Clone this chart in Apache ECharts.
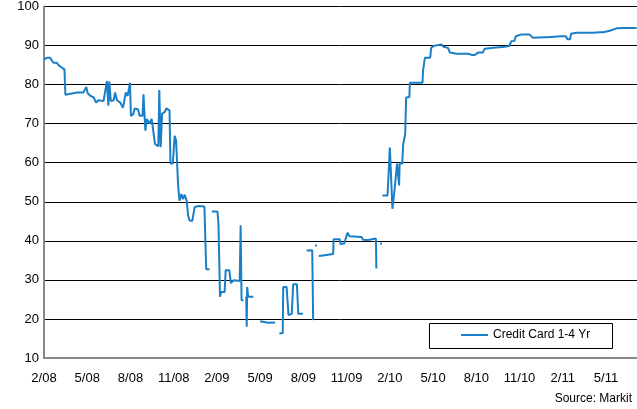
<!DOCTYPE html>
<html>
<head>
<meta charset="utf-8">
<script src="https://cdn.jsdelivr.net/npm/echarts@6/dist/echarts.min.js"></script>
<style>html,body{margin:0;padding:0;background:#fff}#c{width:637px;height:409px}</style>
</head>
<body>
<div id="c"></div>
<script>
const seriesName = 'Credit Card 1-4 Yr';
const yTicks = [10, 20, 30, 40, 50, 60, 70, 80, 90, 100];
const dates = [
'2008-02-01','2008-02-07','2008-02-13','2008-02-17','2008-02-20','2008-02-27','2008-03-01','2008-03-09','2008-03-14','2008-03-16',
'2008-03-19','2008-04-10','2008-04-23','2008-04-29','2008-05-02','2008-05-08','2008-05-15','2008-05-20','2008-05-25','2008-05-29',
'2008-06-05','2008-06-08','2008-06-12','2008-06-15','2008-06-17','2008-06-20','2008-06-26','2008-06-29','2008-07-03','2008-07-10',
'2008-07-16','2008-07-20','2008-07-22','2008-07-26','2008-07-31','2008-08-02','2008-08-07','2008-08-10','2008-08-17','2008-08-21',
'2008-08-27','2008-08-29','2008-09-02','2008-09-05','2008-09-11','2008-09-15','2008-09-18','2008-09-22','2008-09-29','2008-10-01',
'2008-10-04','2008-10-07','2008-10-13','2008-10-16','2008-10-23','2008-10-25','2008-10-30','2008-11-03','2008-11-06','2008-11-10',
'2008-11-13','2008-11-17','2008-11-20','2008-11-24','2008-11-28','2008-12-01','2008-12-04','2008-12-10','2008-12-15','2008-12-22',
'2009-01-05','2009-01-08','2009-01-09','2009-01-16','2009-01-18','2009-01-21','2009-02-02','2009-02-04','2009-02-07','2009-02-09',
'2009-02-16','2009-02-18','2009-02-25','2009-02-28','2009-03-06','2009-03-19','2009-03-21','2009-03-23','2009-03-27','2009-03-30',
'2009-04-02','2009-04-03','2009-04-04','2009-04-06','2009-04-17','2009-04-24','2009-05-01','2009-05-05','2009-05-18','2009-06-02',
'2009-06-06','2009-06-11','2009-06-18','2009-06-19','2009-06-26','2009-06-30','2009-07-07','2009-07-10','2009-07-18','2009-07-21',
'2009-07-31','2009-08-04','2009-08-08','2009-08-20','2009-08-22','2009-08-24','2009-08-26','2009-08-30','2009-08-31','2009-09-03',
'2009-09-15','2009-10-03','2009-10-04','2009-10-17','2009-10-19','2009-10-27','2009-10-31','2009-11-03','2009-11-07','2009-12-02',
'2009-12-05','2009-12-16','2010-01-02','2010-01-03','2010-01-07','2010-01-11','2010-01-15','2010-01-15','2010-01-16','2010-01-27',
'2010-02-01','2010-02-06','2010-02-10','2010-02-13','2010-02-15','2010-02-19','2010-02-20','2010-02-25','2010-02-27','2010-03-03',
'2010-03-05','2010-03-12','2010-03-13','2010-04-09','2010-04-10','2010-04-14','2010-04-25','2010-04-27','2010-05-02','2010-05-05',
'2010-05-19','2010-05-23','2010-06-02','2010-06-06','2010-06-20','2010-07-15','2010-07-18','2010-07-22','2010-07-29','2010-08-05',
'2010-08-15','2010-08-19','2010-09-12','2010-09-26','2010-10-10','2010-10-14','2010-10-21','2010-10-24','2010-11-04','2010-11-22',
'2010-11-29','2010-12-23','2010-12-27','2010-12-30','2011-01-28','2011-02-07','2011-02-10','2011-02-15','2011-02-17','2011-02-28',
'2011-04-04','2011-04-08','2011-04-18','2011-04-25','2011-04-29','2011-05-09','2011-05-13','2011-05-24','2011-06-06','2011-07-05'
];
const values = [
86.4,86.9,86.9,86.6,85.6,85.6,85.0,84.3,83.9,77.4,
77.5,78.0,78.0,79.4,77.8,77.1,76.7,75.4,76.0,76.2,
75.8,75.4,80.9,74.6,80.8,75.8,76.0,78.0,76.0,75.4,
74.1,74.2,78.0,77.1,80.5,72.0,72.4,73.9,73.7,72.0,
72.0,77.5,68.2,71.2,70.0,71.2,68.6,64.8,64.2,78.6,
64.0,72.6,73.0,73.9,73.4,59.8,59.8,66.9,65.7,54.6,
50.3,52.0,50.7,51.8,50.3,46.5,45.2,45.1,48.6,48.9,
48.8,48.6,32.7,32.7,null,47.5,47.5,44.4,25.7,26.9,
26.9,32.5,32.5,29.2,29.9,29.7,44.0,24.8,24.8,null,
25.7,18.0,28.2,25.7,25.7,null,19.4,18.9,19.0,19.1,
null,16.3,16.4,28.2,28.2,21.0,21.3,28.9,28.9,21.3,
21.3,null,37.5,37.6,19.7,null,38.8,38.8,null,36.1,
36.3,36.6,40.4,40.4,39.2,39.3,41.0,42.1,41.2,41.0,
40.3,40.2,40.6,32.9,null,39.3,39.3,null,51.6,51.6,
63.9,48.2,52.9,52.9,59.8,54.2,59.8,59.8,64.8,67.3,
76.7,76.8,80.5,80.5,83.5,86.9,86.9,89.4,89.9,90.3,
90.3,89.7,89.4,88.2,87.9,87.9,88.2,87.6,87.6,88.2,
88.2,89.2,89.5,89.6,89.9,91.1,91.2,92.4,92.8,92.8,
92.0,92.1,92.5,92.1,92.4,92.4,91.6,91.6,93.0,93.3,
93.3,93.0,93.4,93.4,93.9,93.8,94.1,94.4,94.5,94.5
];

function monthIndex(s) {
  const p = s.split('-').map(Number);
  const dim = new Date(Date.UTC(p[0], p[1], 0)).getUTCDate();
  return (p[0] - 2008) * 12 + (p[1] - 2) + (p[2] - 1) / dim;
}
const data = dates.map((d, i) => [monthIndex(d), values[i] === null ? '-' : values[i]]);
const font = 'Arial, "Liberation Sans", sans-serif';
const blue = '#1a7fc6';

const chart = echarts.init(document.getElementById('c'));
chart.setOption({
  animation: false,
  backgroundColor: '#fff',
  grid: { left: 44, right: 0, top: 5, bottom: 51 },
  xAxis: {
    type: 'value', min: 0, max: 41.15, interval: 3,
    axisLine: { show: true, onZero: false, lineStyle: { color: '#888', width: 2 } },
    axisTick: { show: false },
    splitLine: { show: false },
    axisLabel: {
      showMaxLabel: false, margin: 14, color: '#000', fontSize: 13, fontFamily: font,
      formatter: v => {
        if (Math.abs(v - Math.round(v)) > 1e-6 || Math.round(v) % 3 !== 0) return '';
        const t = Math.round(v) + 1;
        return (t % 12 + 1) + '/' + String(8 + Math.floor(t / 12)).padStart(2, '0');
      }
    }
  },
  yAxis: {
    type: 'value', min: yTicks[0], max: yTicks[yTicks.length - 1], interval: 10,
    axisLine: { show: true, lineStyle: { color: '#888', width: 2 } },
    axisTick: { show: false },
    splitLine: { show: true, lineStyle: { color: '#000', width: 1 } },
    axisLabel: { margin: 5, color: '#000', fontSize: 13, fontFamily: font }
  },
  legend: {
    data: [{ name: seriesName, icon: 'rect' }], left: 461, top: 329, padding: 0,
    itemWidth: 27, itemHeight: 2, itemGap: 5,
    itemStyle: { color: blue },
    textStyle: { color: '#000', fontSize: 12, fontFamily: font }
  },
  graphic: [
    { type: 'rect', shape: { x: 429.5, y: 323.5, width: 183, height: 25 },
      style: { fill: 'rgba(0,0,0,0)', stroke: '#000', lineWidth: 1 }, z: 100 },
    { type: 'text', right: 5, top: 393,
      style: { text: 'Source: Markit', fill: '#000', font: '12px ' + font } }
  ],
  series: [{
    name: seriesName, type: 'line', data: data, symbol: 'none', showSymbol: false,
    connectNulls: false,
    lineStyle: { color: blue, width: 2 }, itemStyle: { color: blue }
  }]
});
</script>
</body>
</html>
